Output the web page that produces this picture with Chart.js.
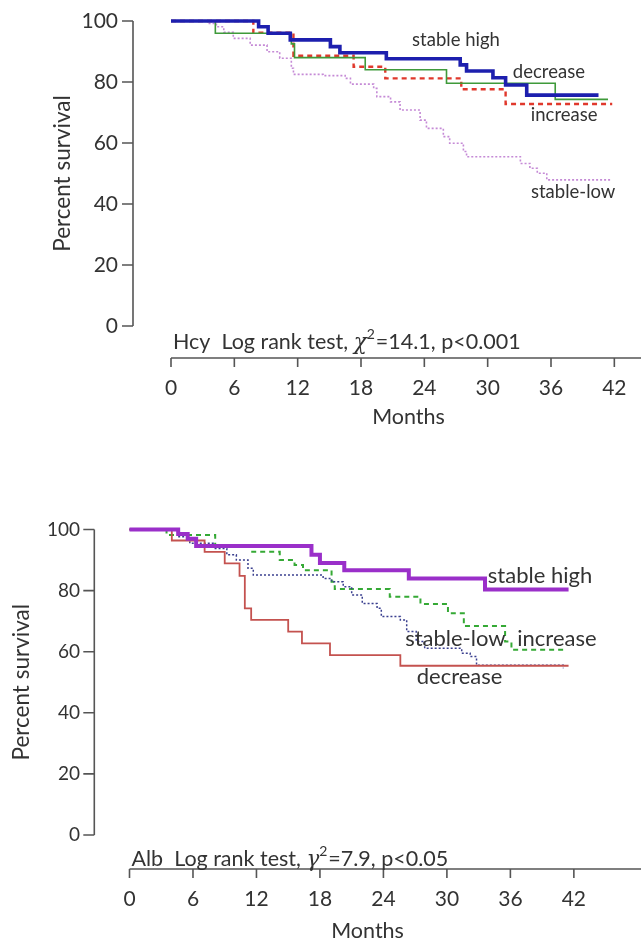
<!DOCTYPE html>
<html>
<head>
<meta charset="utf-8">
<script src="https://cdn.jsdelivr.net/npm/chart.js@4.4.0/dist/chart.umd.min.js"></script>
<style>
  html, body { margin: 0; padding: 0; background: #fff; overflow: hidden; }
  #page { position: relative; width: 641px; height: 942px; overflow: hidden; }
  #hcyChart { position: absolute; left: 0; top: 0; }
  #albChart { position: absolute; left: 0; top: 450px; }
</style>
</head>
<body>
<div id="page">
  <canvas id="hcyChart" width="660" height="440"></canvas>
  <canvas id="albChart" width="641" height="494"></canvas>
</div>
<script>
// axis ticks
const monthTicks = [0, 6, 12, 18, 24, 30, 36, 42];
const percentTicks = [0, 20, 40, 60, 80, 100];

// Hcy trajectories: event times (months) and survival (%) after each step
const hcyHighT = [0, 8.3, 9.2, 11.3, 15.1, 16.0, 20.4, 27.4, 28.0, 30.5, 31.7, 33.7, 40.5];
const hcyHighS = [100, 98.1, 96.0, 93.8, 91.6, 89.6, 87.6, 85.6, 83.6, 81.4, 79.0, 75.7, 75.7];
const hcyDecT = [0, 4.2, 11.4, 11.7, 18.4, 26.1, 36.4, 41.4];
const hcyDecS = [100, 96.0, 92.5, 88.0, 84.0, 79.6, 74.3, 74.3];
const hcyIncT = [0, 7.8, 11.6, 17.3, 20.3, 27.5, 31.7, 41.8];
const hcyIncS = [100, 96.2, 88.6, 85.0, 81.2, 77.6, 72.8, 72.8];
const hcyLowT = [0, 3.5, 4.3, 5.0, 5.9, 7.5, 9.1, 10.3, 11.4, 11.6, 14.4, 16.5, 17.0, 19.2, 19.5,
  20.8, 21.7, 23.6, 24.2, 25.8, 26.4, 27.7, 28.0, 33.1, 34.0, 34.7, 35.6, 41.6];
const hcyLowS = [100, 99.2, 98.1, 96.3, 94.3, 92.1, 89.9, 87.8, 84.5, 82.5, 82.1, 81.2, 79.3, 77.9, 75.2,
  73.5, 70.8, 67.5, 64.8, 62.1, 59.9, 57.2, 55.5, 53.3, 51.7, 50.1, 47.9, 47.9];

// Alb trajectories
const albHighT = [0, 4.6, 5.5, 6.3, 17.2, 18.0, 20.3, 26.4, 33.6, 41.5];
const albHighS = [100, 98.5, 97.0, 94.6, 91.7, 89.0, 86.7, 84.0, 80.4, 80.4];
const albDecT = [0, 4.0, 7.1, 9.0, 10.4, 10.9, 11.5, 15.0, 16.3, 18.95, 25.6, 41.5];
const albDecS = [100, 96.4, 92.7, 88.9, 84.8, 74.2, 70.4, 66.6, 62.7, 58.9, 55.4, 55.4];
const albLowT = [0, 4.6, 5.7, 7.9, 9.2, 10.1, 11.2, 11.7, 18.3, 19.1, 20.2, 21.0, 22.0, 23.4, 23.8,
  25.6, 26.2, 27.1, 27.9, 31.4, 32.2, 32.8, 41.0];
const albLowS = [100, 97.6, 95.5, 93.8, 91.7, 90.0, 87.3, 85.1, 84.0, 82.9, 81.3, 78.6, 75.8, 74.2, 71.5,
  70.4, 66.6, 63.3, 61.1, 59.5, 58.4, 55.6, 54.6];
const albIncT = [0, 3.5, 8.1, 11.6, 14.2, 15.6, 16.4, 19.1, 19.4, 24.6, 27.5, 30.1, 31.6, 35.5, 36.1, 41.3];
const albIncS = [100, 98.2, 94.6, 92.7, 90.0, 88.4, 86.7, 82.9, 80.5, 78.0, 75.6, 72.6, 68.4, 63.3, 60.6, 60.6];

const FONT = 'Lato, "Open Sans", sans-serif';
const TEXT = '#333';

const km = (t, s) => t.map((m, i) => ({ x: m, y: s[i] }));

function curve(t, s, color, width, dash) {
  return {
    data: km(t, s),
    borderColor: color,
    borderWidth: width,
    borderDash: dash || [],
    stepped: true,
    pointRadius: 0,
    fill: false,
    clip: 8
  };
}

// draws the detached axes, group names and the log-rank note
const prismAxes = {
  id: 'prismAxes',
  afterDraw(chart, args, opts) {
    const { ctx, chartArea } = chart;
    const x = chart.scales.x, y = chart.scales.y;
    const ax = chartArea.left - opts.yGap;
    const ay = chartArea.bottom + opts.xGap;
    ctx.save();
    ctx.strokeStyle = '#555';
    ctx.lineWidth = 1.6;
    ctx.beginPath();
    ctx.moveTo(ax, y.getPixelForValue(100));
    ctx.lineTo(ax, y.getPixelForValue(0));
    percentTicks.forEach(v => {
      const py = y.getPixelForValue(v);
      ctx.moveTo(ax - 11, py);
      ctx.lineTo(ax, py);
    });
    ctx.moveTo(x.getPixelForValue(0), ay);
    ctx.lineTo(chart.width, ay);
    monthTicks.forEach(m => {
      const px = x.getPixelForValue(m);
      ctx.moveTo(px, ay);
      ctx.lineTo(px, ay + 9);
    });
    ctx.stroke();

    ctx.fillStyle = TEXT;
    ctx.textAlign = 'center';
    ctx.textBaseline = 'middle';
    ctx.font = opts.labelSize + 'px ' + FONT;
    opts.labels.forEach(l => {
      ctx.fillText(l.text, x.getPixelForValue(l.x), y.getPixelForValue(l.y));
    });

    // log rank note with superscript
    const n = opts.note;
    const size = 21.5;
    let px = x.getPixelForValue(0) + 2;
    const base = ay - n.lift;
    ctx.textAlign = 'left';
    ctx.textBaseline = 'alphabetic';
    ctx.font = size + 'px ' + FONT;
    ctx.fillText(n.head, px, base);
    px += ctx.measureText(n.head).width;
    ctx.font = 'italic ' + size + 'px "DejaVu Serif", serif';
    ctx.fillText(n.sym, px, base);
    px += ctx.measureText(n.sym).width;
    ctx.font = '14px ' + FONT;
    ctx.fillText('2', px, base - 10);
    px += ctx.measureText('2').width + 1;
    ctx.font = size + 'px ' + FONT;
    ctx.fillText(n.tail, px, base);
    ctx.restore();
  }
};

function options(cfg) {
  return {
    responsive: false,
    animation: false,
    layout: { padding: cfg.padding },
    plugins: {
      legend: { display: false },
      tooltip: { enabled: false },
      prismAxes: cfg.axes
    },
    scales: {
      x: {
        type: 'linear',
        min: 0,
        max: 45,
        grid: { display: false, drawTicks: false },
        border: { display: false },
        afterBuildTicks: s => { s.ticks = monthTicks.map(v => ({ value: v })); },
        afterFit: s => { s.height = cfg.xHeight; s.paddingLeft = 0; s.paddingRight = 0; },
        ticks: { padding: cfg.xTickPad, color: TEXT, font: { family: FONT, size: 21 } },
        title: {
          display: true, text: 'Months', color: TEXT,
          font: { family: FONT, size: 21.5 }, padding: { top: 0, bottom: 0 }
        }
      },
      y: {
        type: 'linear',
        min: 0,
        max: 100,
        grid: { display: false, drawTicks: false },
        border: { display: false },
        afterBuildTicks: s => { s.ticks = percentTicks.map(v => ({ value: v })); },
        afterFit: s => { s.width = cfg.yWidth; s.paddingTop = 0; s.paddingBottom = 0; },
        ticks: { padding: cfg.yTickPad, color: TEXT, font: { family: FONT, size: cfg.yTickSize } },
        title: {
          display: true, text: 'Percent survival', color: TEXT,
          font: { family: FONT, size: 22.5 }, padding: { top: cfg.yTitlePad, bottom: 0 }
        }
      }
    }
  };
}

new Chart(document.getElementById('hcyChart'), {
  type: 'line',
  data: {
    datasets: [
      curve(hcyHighT, hcyHighS, '#1d1fae', 3.6),
      curve(hcyDecT, hcyDecS, '#3f9a3a', 1.6),
      curve(hcyIncT, hcyIncS, '#e0382c', 2.4, [5, 4]),
      curve(hcyLowT, hcyLowS, '#c58ad6', 1.6, [2, 2])
    ]
  },
  options: options({
    padding: { left: 0, top: 21, right: 14, bottom: 10 },
    xHeight: 104, xTickPad: 50,
    yWidth: 171, yTickPad: 53, yTickSize: 21, yTitlePad: 49,
    axes: {
      yGap: 38, xGap: 32, labelSize: 18.5,
      labels: [
        { text: 'stable high', x: 27.0, y: 93.8 },
        { text: 'decrease', x: 35.8, y: 83.3 },
        { text: 'increase', x: 37.25, y: 69.2 },
        { text: 'stable-low', x: 38.1, y: 43.9 }
      ],
      note: { head: 'Hcy  Log rank test, ', sym: 'χ', tail: '=14.1, p<0.001', lift: 9 }
    }
  }),
  plugins: [prismAxes]
});

new Chart(document.getElementById('albChart'), {
  type: 'line',
  data: {
    datasets: [
      curve(albHighT, albHighS, '#9a2fc9', 4),
      curve(albDecT, albDecS, '#c4524f', 1.8),
      curve(albLowT, albLowS, '#3a3f8f', 1.5, [2, 2]),
      curve(albIncT, albIncS, '#35a935', 2, [5, 4])
    ]
  },
  options: options({
    padding: { left: 0, top: 79.5, right: 35.4, bottom: 0 },
    xHeight: 109, xTickPad: 52,
    yWidth: 129.5, yTickPad: 49.5, yTickSize: 19, yTitlePad: 8,
    axes: {
      yGap: 35.2, xGap: 34, labelSize: 22,
      labels: [
        { text: 'stable high', x: 38.8, y: 84.8 },
        { text: 'stable-low', x: 30.8, y: 64.2 },
        { text: 'increase', x: 40.4, y: 64.2 },
        { text: 'decrease', x: 31.2, y: 51.7 }
      ],
      note: { head: 'Alb  Log rank test, ', sym: 'γ', tail: '=7.9, p<0.05', lift: 3 }
    }
  }),
  plugins: [prismAxes]
});
</script>
</body>
</html>
